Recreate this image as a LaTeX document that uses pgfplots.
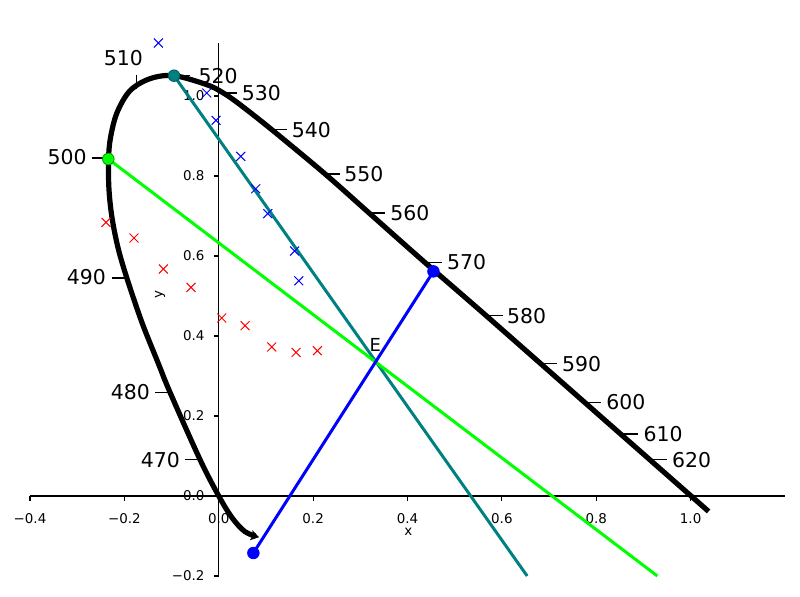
\documentclass[border=0pt]{standalone}
\usepackage{fontspec}
\setmainfont{DejaVu Sans}
\usepackage{pgfplots}
\pgfplotsset{compat=1.18}
\usetikzlibrary{arrows.meta}
\definecolor{mteal}{RGB}{0,128,128}
\definecolor{mgreen}{RGB}{0,255,0}
\definecolor{mblue}{RGB}{0,0,255}
\definecolor{mred}{RGB}{255,0,0}
\newcommand{\wl}{\fontsize{20.5}{24}\selectfont}
\begin{document}
\begin{tikzpicture}
\useasboundingbox (0,0) rectangle (800bp,597bp);
\begin{axis}[
  at={(30bp,21bp)}, anchor=south west,
  scale only axis, width=755bp, height=533bp,
  xmin=-0.4, xmax=1.2, ymin=-0.2, ymax=1.1325,
  axis lines=middle,
  axis line style={-, line width=1.1bp, black},
  clip=false,
  hide obscured x ticks=false, hide obscured y ticks=false,
  tick align=outside, major tick length=5bp,
  tick style={black, line width=1.1bp},
  xtick={-0.4,-0.2,0,0.2,0.4,0.6,0.8,1.0},
  xticklabels={−0.4,−0.2,0.0,0.2,0.4,0.6,0.8,1.0},
  ytick={-0.2,0,0.2,0.4,0.6,0.8,1.0},
  yticklabels={−0.2,0.0,0.2,0.4,0.6,0.8,1.0},
  tick label style={font=\fontsize{13.5}{16}\selectfont, inner sep=0pt},
  xticklabel style={anchor=north, yshift=-12bp},
  yticklabel style={anchor=east, xshift=-9bp},
]
% spectral locus
\addplot[black, line width=5.2bp, smooth, tension=0.55, -{Stealth[length=8bp,width=10bp,inset=1.5bp]}] coordinates {
 (1.038,-0.0385) (0.7766,0.2328) (0.5667,0.4508) (0.4338,0.587) (0.3172,0.709)
 (0.2254,0.805) (0.1124,0.9158) (0.0452,0.9783) (0.0098,1.0075) (-0.0254,1.0283)
 (-0.0948,1.0508) (-0.1456,1.0433) (-0.188,1.0133) (-0.2156,0.9583) (-0.2294,0.8958)
 (-0.2336,0.8408) (-0.2326,0.7658) (-0.2262,0.6958) (-0.2135,0.6208) (-0.195,0.5458)
 (-0.1626,0.4333) (-0.1287,0.3333) (-0.1032,0.259) (-0.0396,0.0908) (0,0)
 (0.0282,-0.0543) (0.0558,-0.0893) (0.0854,-0.103)
};
% wavelength ticks
\addplot[black, line width=1.5bp] coordinates {(0.9207,0.0908) (0.9504,0.0908)};
\addplot[black, line width=1.5bp] coordinates {(0.8571,0.155) (0.8883,0.155)};
\addplot[black, line width=1.5bp] coordinates {(0.7766,0.234) (0.8098,0.234)};
\addplot[black, line width=1.5bp] coordinates {(0.6848,0.3308) (0.7166,0.3308)};
\addplot[black, line width=1.5bp] coordinates {(0.5667,0.4508) (0.6021,0.4508)};
\addplot[black, line width=1.5bp] coordinates {(0.441,0.584) (0.4728,0.584)};
\addplot[black, line width=1.5bp] coordinates {(0.3172,0.7075) (0.3525,0.7075)};
\addplot[black, line width=1.5bp] coordinates {(0.2254,0.805) (0.2572,0.805)};
\addplot[black, line width=1.5bp] coordinates {(0.1124,0.9158) (0.1442,0.9158)};
\addplot[black, line width=1.5bp] coordinates {(0.0098,1.0075) (0.0394,1.0075)};
\addplot[black, line width=1.5bp] coordinates {(-0.0948,1.0508) (-0.0609,1.0508)};
\addplot[black, line width=1.5bp] coordinates {(-0.1738,1.0533) (-0.1738,1.0175)};
\addplot[black, line width=1.5bp] coordinates {(-0.2692,0.845) (-0.234,0.845)};
\addplot[black, line width=1.5bp] coordinates {(-0.2268,0.545) (-0.195,0.545)};
\addplot[black, line width=1.5bp] coordinates {(-0.135,0.259) (-0.1032,0.259)};
\addplot[black, line width=1.5bp] coordinates {(-0.0714,0.0908) (-0.0396,0.0908)};
% lines through E
\addplot[mteal, line width=3bp] coordinates {(-0.0948,1.0508) (0.6536,-0.2)};
\addplot[mgreen, line width=3bp] coordinates {(-0.234,0.8425) (0.9295,-0.2)};
\addplot[mblue, line width=3bp] coordinates {(0.0734,-0.1425) (0.455,0.5615)};
% crosses
\addplot[only marks, mark=x, mark size=6.3bp, mblue, mark options={line width=1bp}] coordinates {
 (-0.128,1.1325) (-0.0254,1.0075) (-0.0057,0.939) (0.0466,0.849) (0.0784,0.768)
 (0.1039,0.7058) (0.1607,0.6125) (0.1696,0.538)
};
\addplot[only marks, mark=x, mark size=6.3bp, mred, mark options={line width=1bp}] coordinates {
 (-0.2389,0.684) (-0.1796,0.645) (-0.1174,0.5675) (-0.0587,0.5215) (0.0064,0.445)
 (0.0558,0.4258) (0.1124,0.3725) (0.1639,0.359) (0.209,0.3633)
};
% dots
\addplot[only marks, mark=*, mark size=5.8bp, mark options={fill=mteal, draw=mteal!70!black, line width=0.8bp}] coordinates {(-0.0948,1.0508)};
\addplot[only marks, mark=*, mark size=5.8bp, mark options={fill=mgreen, draw=mgreen!60!black, line width=0.8bp}] coordinates {(-0.234,0.8425)};
\addplot[only marks, mark=*, mark size=5.8bp, mark options={fill=mblue, draw=mblue, line width=0.8bp}] coordinates {(0.455,0.5615) (0.0734,-0.1425)};
% wavelength labels
\begin{scope}[every node/.style={inner sep=0pt, font=\wl}]
\node[anchor=west] at (axis cs:0.9604,0.0908) {620};
\node[anchor=west] at (axis cs:0.9001,0.155) {610};
\node[anchor=west] at (axis cs:0.8211,0.234) {600};
\node[anchor=west] at (axis cs:0.7272,0.3308) {590};
\node[anchor=west] at (axis cs:0.6106,0.4508) {580};
\node[anchor=west] at (axis cs:0.4834,0.584) {570};
\node[anchor=west] at (axis cs:0.3632,0.7075) {560};
\node[anchor=west] at (axis cs:0.2656,0.805) {550};
\node[anchor=west] at (axis cs:0.1548,0.9158) {540};
\node[anchor=west] at (axis cs:0.0488,1.0075) {530};
\node[anchor=west] at (axis cs:-0.0432,1.0508) {520};
\node[anchor=center] at (axis cs:-0.2023,1.095) {510};
\node[anchor=east] at (axis cs:-0.2798,0.8465) {500};
\node[anchor=east] at (axis cs:-0.2389,0.5465) {490};
\node[anchor=east] at (axis cs:-0.1456,0.259) {480};
\node[anchor=east] at (axis cs:-0.082,0.089) {470};
\end{scope}
\node[inner sep=0pt, font=\fontsize{18}{21}\selectfont] at (axis cs:0.3316,0.3783) {E};
\node[inner sep=0pt, font=\fontsize{13.5}{16}\selectfont] at (axis cs:0.402,-0.0885) {x};
\node[inner sep=0pt, font=\fontsize{13.5}{16}\selectfont, rotate=90] at (axis cs:-0.1244,0.5033) {y};
\end{axis}
\end{tikzpicture}
\end{document}
